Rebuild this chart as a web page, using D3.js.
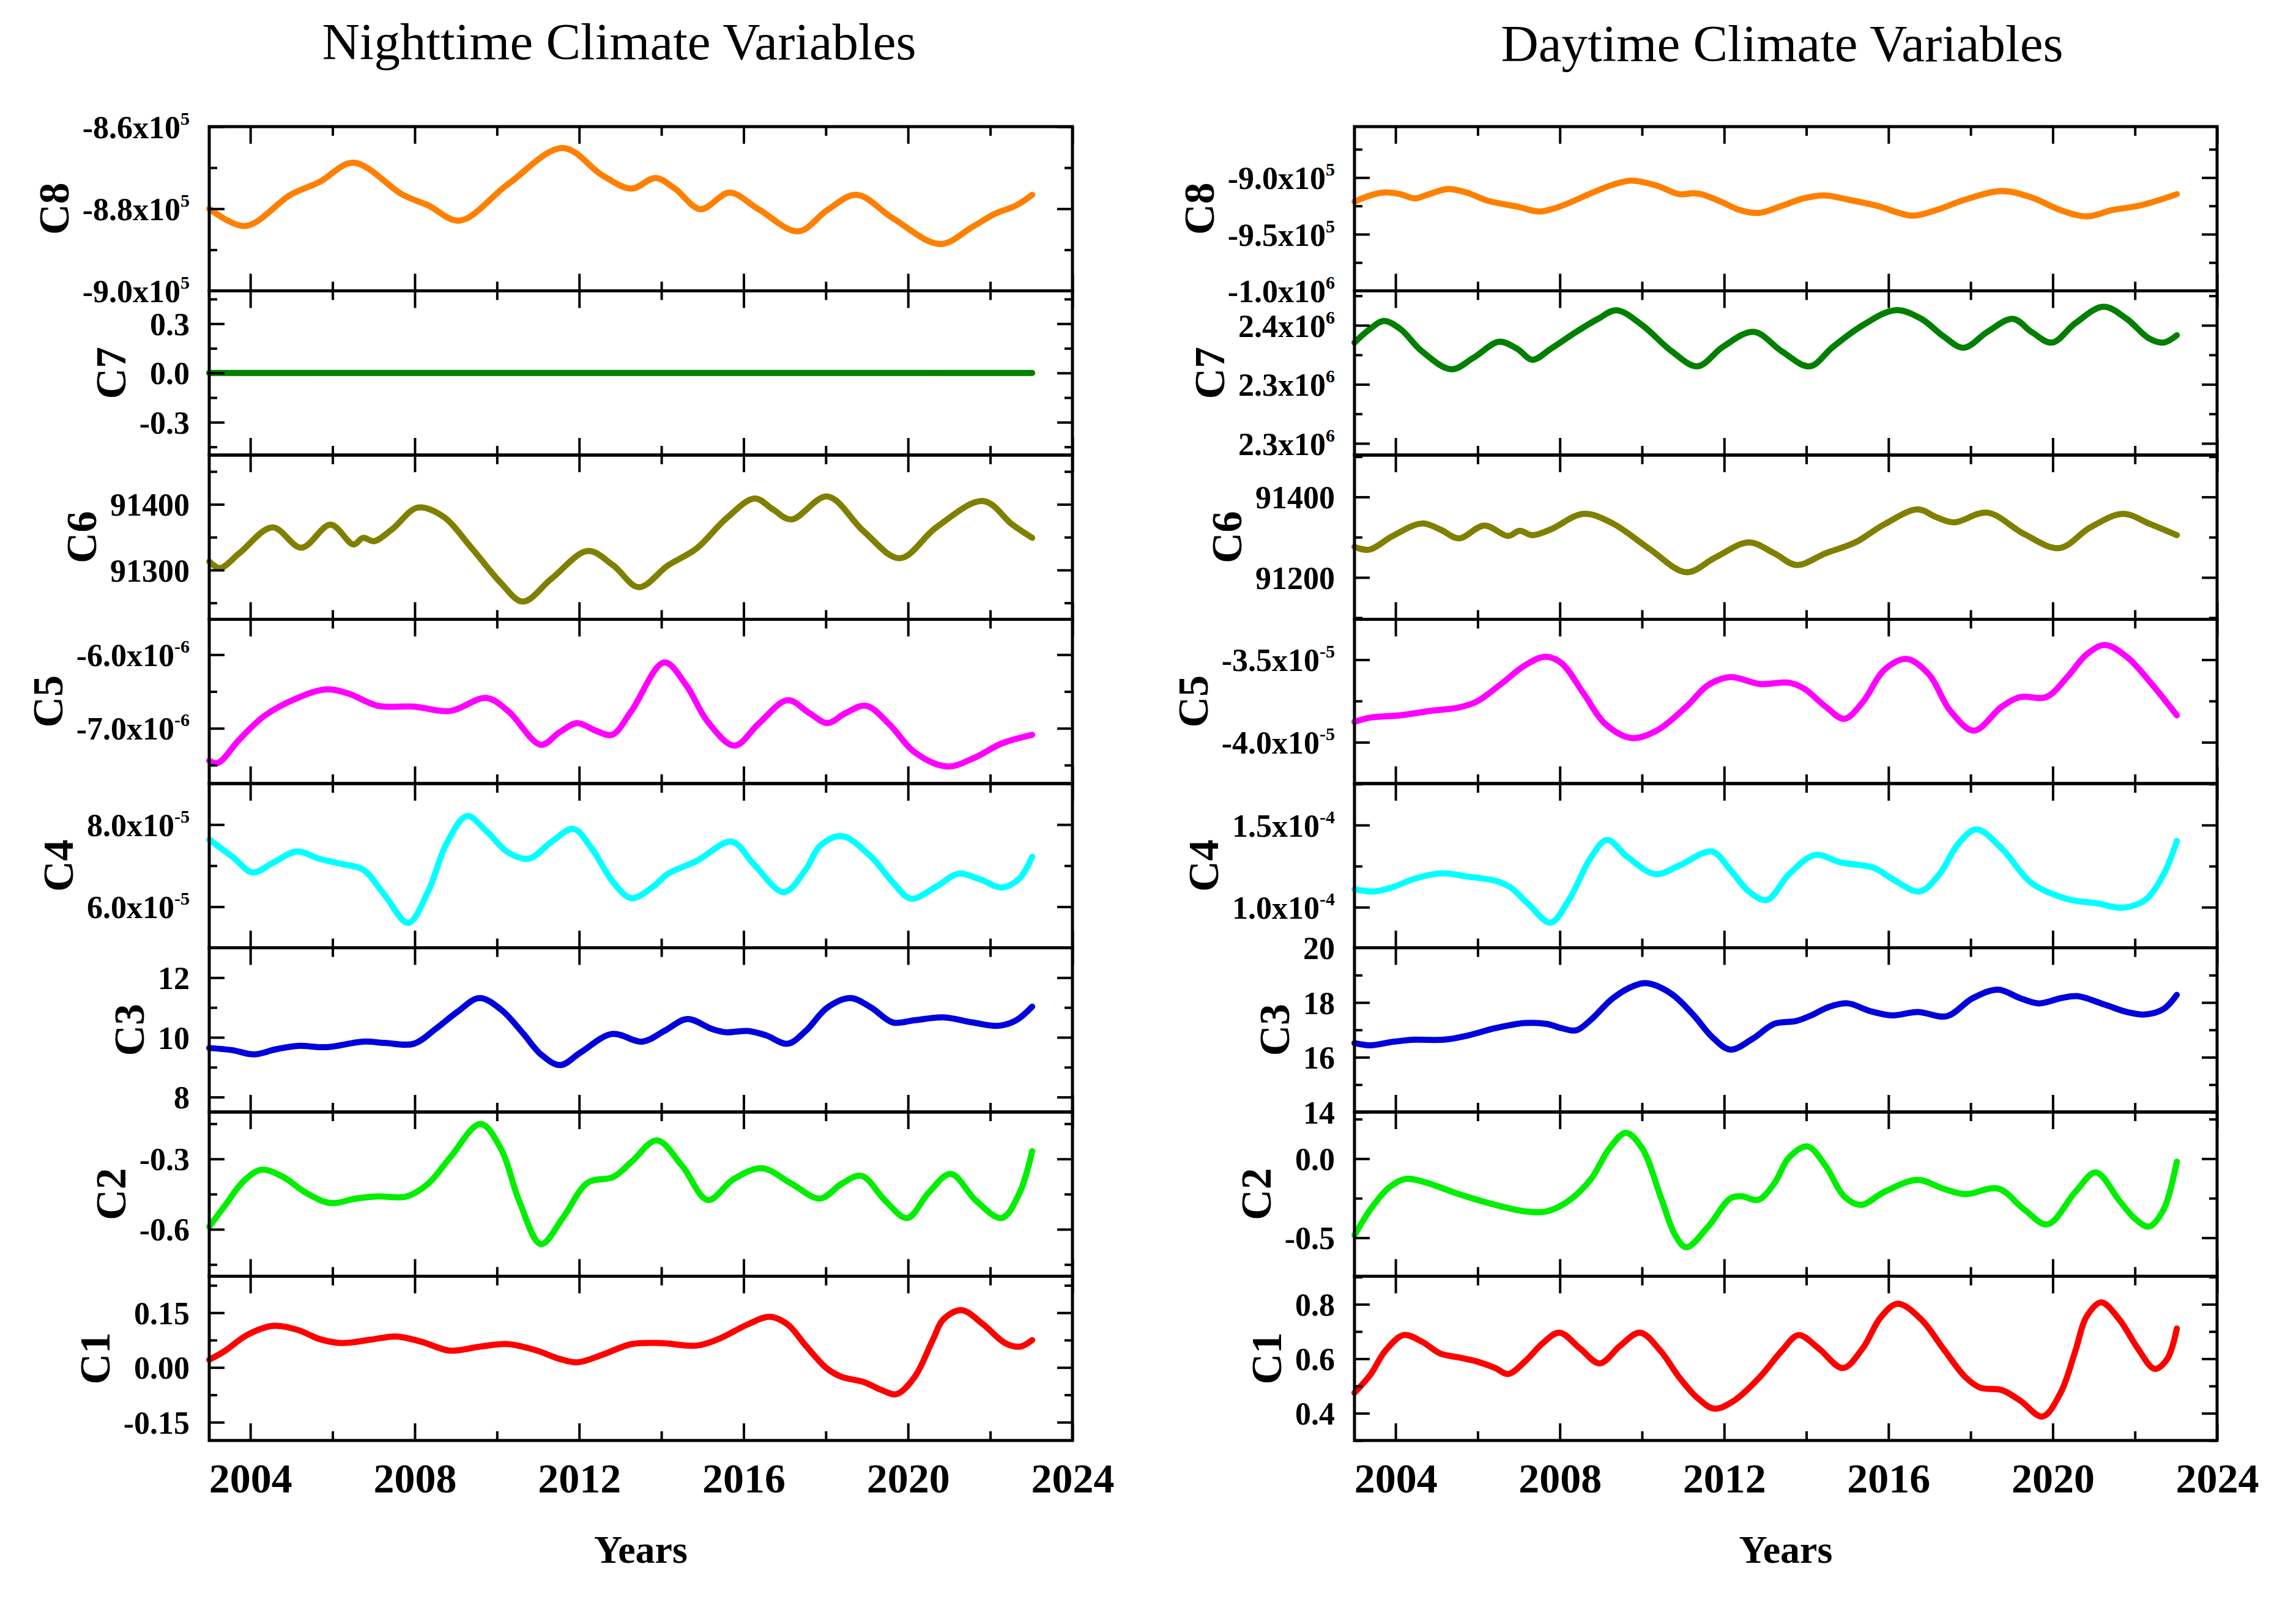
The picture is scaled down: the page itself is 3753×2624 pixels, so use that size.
<!DOCTYPE html>
<html>
<head>
<meta charset="utf-8">
<script src="https://cdn.jsdelivr.net/npm/d3@7"></script>
<style>
  body { margin: 0; background: #fff; }
  svg text { font-family: "Liberation Serif", "Times New Roman", serif; }
</style>
</head>
<body>
<svg id="chart" width="3753" height="2624"></svg>
<script>
// ---- data: [year, value] ----
const yearTicks = [2004, 2008, 2012, 2016, 2020, 2024];
const yearMinor = [2006, 2010, 2014, 2018, 2022];
const componentNames = ["C8", "C7", "C6", "C5", "C4", "C3", "C2", "C1"];
const lineColors = ["#ff8000", "#007f00", "#808000", "#ff00ff", "#00ffff", "#0000dd", "#00ee00", "#ff0000"];

const nightC8 = [[2003.00,-8.800e5],[2003.88,-8.842e5],[2004.98,-8.766e5],[2005.68,-8.735e5],[2006.51,-8.688e5],[2007.71,-8.766e5],[2008.33,-8.792e5],[2009.09,-8.829e5],[2010.27,-8.740e5],[2011.60,-8.652e5],[2012.57,-8.719e5],[2013.27,-8.751e5],[2013.86,-8.725e5],[2014.33,-8.751e5],[2014.95,-8.801e5],[2015.66,-8.761e5],[2016.36,-8.801e5],[2017.33,-8.855e5],[2018.04,-8.803e5],[2018.75,-8.766e5],[2019.63,-8.823e5],[2020.78,-8.886e5],[2021.57,-8.844e5],[2022.10,-8.813e5],[2022.63,-8.792e5],[2023.02,-8.766e5]];
const nightC7 = [[2003.00,0],[2008.00,0],[2013.00,0],[2018.00,0],[2023.02,0]];
const nightC6 = [[2003.00,91313],[2003.26,91303],[2003.74,91326],[2004.54,91365],[2005.24,91334],[2005.95,91369],[2006.51,91339],[2006.74,91349],[2007.01,91344],[2007.45,91362],[2008.07,91395],[2008.68,91382],[2009.39,91333],[2010.10,91280],[2010.63,91252],[2011.33,91287],[2012.21,91329],[2012.83,91307],[2013.45,91274],[2014.16,91307],[2014.86,91333],[2015.57,91378],[2016.27,91409],[2016.72,91392],[2017.16,91377],[2018.04,91412],[2018.92,91359],[2019.80,91318],[2020.69,91365],[2021.83,91405],[2022.54,91369],[2023.02,91349]];
const nightC5 = [[2003.00,-7.441e-6],[2003.21,-7.471e-6],[2003.74,-7.147e-6],[2004.36,-6.824e-6],[2005.15,-6.588e-6],[2005.86,-6.471e-6],[2006.39,-6.529e-6],[2007.10,-6.694e-6],[2007.98,-6.706e-6],[2008.86,-6.765e-6],[2009.74,-6.588e-6],[2010.27,-6.765e-6],[2011.07,-7.224e-6],[2011.51,-7.059e-6],[2011.95,-6.929e-6],[2012.39,-7.029e-6],[2012.80,-7.088e-6],[2013.27,-6.765e-6],[2014.07,-6.106e-6],[2014.60,-6.412e-6],[2015.13,-6.912e-6],[2015.78,-7.235e-6],[2016.36,-6.941e-6],[2017.07,-6.618e-6],[2017.60,-6.794e-6],[2018.04,-6.929e-6],[2018.48,-6.794e-6],[2018.98,-6.694e-6],[2019.54,-6.941e-6],[2020.16,-7.324e-6],[2020.95,-7.518e-6],[2021.57,-7.412e-6],[2022.28,-7.206e-6],[2023.02,-7.088e-6]];
const nightC4 = [[2003.00,7.635e-5],[2003.56,7.219e-5],[2004.06,6.833e-5],[2004.54,7.063e-5],[2005.12,7.344e-5],[2005.68,7.167e-5],[2006.21,7.042e-5],[2006.74,6.906e-5],[2007.27,6.281e-5],[2007.84,5.604e-5],[2008.33,6.385e-5],[2008.77,7.531e-5],[2009.27,8.208e-5],[2009.74,7.844e-5],[2010.27,7.323e-5],[2010.77,7.167e-5],[2011.33,7.583e-5],[2011.86,7.896e-5],[2012.30,7.427e-5],[2012.83,6.594e-5],[2013.27,6.208e-5],[2013.80,6.490e-5],[2014.16,6.802e-5],[2014.86,7.115e-5],[2015.71,7.583e-5],[2016.27,7.010e-5],[2016.98,6.354e-5],[2017.51,6.906e-5],[2017.86,7.479e-5],[2018.39,7.719e-5],[2019.10,7.219e-5],[2019.63,6.594e-5],[2020.07,6.198e-5],[2020.69,6.490e-5],[2021.22,6.802e-5],[2021.75,6.667e-5],[2022.28,6.469e-5],[2022.72,6.698e-5],[2023.02,7.219e-5]];
const nightC3 = [[2003.00,9.643],[2003.56,9.571],[2004.09,9.429],[2004.62,9.600],[2005.15,9.714],[2005.86,9.671],[2006.74,9.857],[2007.27,9.814],[2007.98,9.786],[2008.51,10.286],[2009.04,10.857],[2009.57,11.314],[2010.10,10.929],[2010.63,10.143],[2011.07,9.429],[2011.54,9.071],[2012.04,9.500],[2012.80,10.114],[2013.54,9.857],[2014.07,10.214],[2014.63,10.614],[2015.22,10.286],[2015.57,10.171],[2016.10,10.214],[2016.54,10.071],[2017.07,9.786],[2017.51,10.214],[2018.04,11.000],[2018.60,11.314],[2019.10,11.000],[2019.63,10.500],[2020.16,10.571],[2020.86,10.671],[2021.57,10.500],[2022.19,10.386],[2022.63,10.571],[2023.02,11.029]];
const nightC2 = [[2003.00,-0.589],[2003.39,-0.497],[2003.83,-0.396],[2004.27,-0.346],[2004.80,-0.377],[2005.33,-0.442],[2005.95,-0.488],[2006.57,-0.469],[2007.10,-0.460],[2007.80,-0.460],[2008.33,-0.405],[2008.86,-0.294],[2009.60,-0.151],[2010.10,-0.258],[2010.54,-0.479],[2011.07,-0.663],[2011.60,-0.552],[2012.21,-0.401],[2012.83,-0.377],[2013.27,-0.313],[2013.89,-0.221],[2014.51,-0.331],[2015.13,-0.475],[2015.75,-0.387],[2016.45,-0.340],[2017.16,-0.405],[2017.86,-0.469],[2018.39,-0.405],[2018.87,-0.372],[2019.45,-0.479],[2019.98,-0.552],[2020.51,-0.442],[2021.04,-0.364],[2021.66,-0.479],[2022.28,-0.552],[2022.72,-0.442],[2023.02,-0.267]];
const nightC1 = [[2003.00,0.021],[2003.39,0.046],[2003.92,0.089],[2004.54,0.114],[2005.15,0.103],[2005.68,0.078],[2006.21,0.067],[2006.92,0.076],[2007.54,0.085],[2008.15,0.071],[2008.86,0.046],[2009.57,0.057],[2010.27,0.064],[2010.98,0.046],[2011.51,0.024],[2011.95,0.014],[2012.57,0.035],[2013.27,0.064],[2013.98,0.067],[2014.86,0.060],[2015.39,0.078],[2016.10,0.118],[2016.63,0.139],[2017.07,0.118],[2017.51,0.060],[2018.04,-0.004],[2018.39,-0.026],[2018.92,-0.040],[2019.36,-0.062],[2019.72,-0.073],[2020.16,-0.026],[2020.60,0.075],[2020.86,0.132],[2021.30,0.157],[2021.83,0.118],[2022.36,0.067],[2022.72,0.057],[2023.02,0.075]];

const dayC8 = [[2003.00,-9.213e5],[2003.39,-9.157e5],[2003.75,-9.131e5],[2004.11,-9.146e5],[2004.47,-9.183e5],[2004.82,-9.146e5],[2005.27,-9.101e5],[2005.72,-9.131e5],[2006.25,-9.205e5],[2006.97,-9.257e5],[2007.50,-9.299e5],[2008.04,-9.250e5],[2008.76,-9.138e5],[2009.29,-9.063e5],[2009.74,-9.026e5],[2010.36,-9.071e5],[2010.90,-9.146e5],[2011.26,-9.138e5],[2011.44,-9.146e5],[2011.97,-9.220e5],[2012.33,-9.280e5],[2012.83,-9.313e5],[2013.40,-9.250e5],[2013.94,-9.183e5],[2014.44,-9.157e5],[2015.01,-9.194e5],[2015.73,-9.250e5],[2016.58,-9.336e5],[2017.16,-9.287e5],[2017.87,-9.194e5],[2018.76,-9.119e5],[2019.48,-9.175e5],[2020.19,-9.287e5],[2020.82,-9.343e5],[2021.45,-9.287e5],[2022.16,-9.243e5],[2023.02,-9.146e5]];
const dayC7 = [[2003.00,2.3354e6],[2003.36,2.3464e6],[2003.71,2.3537e6],[2004.11,2.3471e6],[2004.64,2.3281e6],[2005.36,2.3128e6],[2005.90,2.3226e6],[2006.52,2.3361e6],[2006.97,2.3299e6],[2007.33,2.3208e6],[2007.77,2.3299e6],[2008.40,2.3445e6],[2008.93,2.3555e6],[2009.38,2.3628e6],[2010.01,2.3500e6],[2010.72,2.3281e6],[2011.35,2.3153e6],[2011.97,2.3318e6],[2012.72,2.3445e6],[2013.40,2.3281e6],[2014.08,2.3153e6],[2014.65,2.3318e6],[2015.37,2.3500e6],[2016.17,2.3628e6],[2016.80,2.3555e6],[2017.33,2.3409e6],[2017.83,2.3310e6],[2018.41,2.3445e6],[2019.03,2.3555e6],[2019.48,2.3445e6],[2019.98,2.3354e6],[2020.55,2.3518e6],[2021.23,2.3657e6],[2021.80,2.3555e6],[2022.34,2.3390e6],[2022.70,2.3354e6],[2023.02,2.3416e6]];
const dayC6 = [[2003.00,91276],[2003.36,91269],[2003.93,91303],[2004.64,91334],[2005.09,91319],[2005.54,91297],[2006.16,91329],[2006.74,91303],[2007.02,91316],[2007.33,91305],[2007.77,91319],[2008.58,91358],[2009.29,91334],[2010.18,91271],[2011.08,91213],[2011.79,91250],[2012.60,91287],[2013.22,91260],[2013.76,91231],[2014.47,91260],[2015.19,91287],[2015.90,91332],[2016.71,91369],[2017.16,91350],[2017.60,91337],[2018.41,91361],[2019.30,91308],[2020.16,91273],[2020.91,91324],[2021.71,91358],[2022.34,91334],[2023.02,91305]];
const dayC5 = [[2003.00,-3.876e-5],[2003.39,-3.850e-5],[2004.11,-3.837e-5],[2004.82,-3.811e-5],[2005.54,-3.789e-5],[2005.98,-3.753e-5],[2006.61,-3.639e-5],[2007.15,-3.534e-5],[2007.65,-3.482e-5],[2008.04,-3.521e-5],[2008.58,-3.705e-5],[2009.11,-3.890e-5],[2009.74,-3.974e-5],[2010.36,-3.929e-5],[2011.08,-3.784e-5],[2011.61,-3.653e-5],[2012.15,-3.605e-5],[2012.87,-3.647e-5],[2013.58,-3.639e-5],[2013.94,-3.674e-5],[2014.47,-3.784e-5],[2014.92,-3.858e-5],[2015.37,-3.758e-5],[2015.90,-3.561e-5],[2016.44,-3.495e-5],[2016.98,-3.587e-5],[2017.51,-3.811e-5],[2018.08,-3.929e-5],[2018.76,-3.784e-5],[2019.21,-3.726e-5],[2019.84,-3.726e-5],[2020.37,-3.600e-5],[2020.82,-3.468e-5],[2021.27,-3.411e-5],[2021.80,-3.482e-5],[2022.43,-3.653e-5],[2023.02,-3.837e-5]];
const dayC4 = [[2003.00,1.109e-4],[2003.48,1.096e-4],[2003.93,1.122e-4],[2004.47,1.174e-4],[2005.14,1.206e-4],[2005.72,1.188e-4],[2006.43,1.161e-4],[2006.79,1.122e-4],[2007.24,1.018e-4],[2007.77,0.906e-4],[2008.22,1.044e-4],[2008.76,1.305e-4],[2009.15,1.409e-4],[2009.65,1.305e-4],[2010.33,1.201e-4],[2010.90,1.253e-4],[2011.70,1.339e-4],[2012.15,1.227e-4],[2012.60,1.096e-4],[2013.04,1.044e-4],[2013.58,1.201e-4],[2014.21,1.318e-4],[2014.83,1.273e-4],[2015.64,1.240e-4],[2016.08,1.174e-4],[2016.76,1.096e-4],[2017.24,1.201e-4],[2017.69,1.383e-4],[2018.14,1.474e-4],[2018.76,1.357e-4],[2019.48,1.148e-4],[2020.37,1.049e-4],[2021.09,1.023e-4],[2021.71,0.997e-4],[2022.25,1.044e-4],[2022.70,1.201e-4],[2023.02,1.404e-4]];
const dayC3 = [[2003.00,16.516],[2003.39,16.438],[2003.93,16.563],[2004.47,16.641],[2005.18,16.641],[2005.72,16.781],[2006.43,17.063],[2007.15,17.250],[2007.68,17.219],[2008.04,17.063],[2008.40,16.984],[2008.76,17.375],[2009.29,18.156],[2009.83,18.625],[2010.13,18.703],[2010.72,18.313],[2011.26,17.531],[2011.70,16.750],[2012.15,16.281],[2012.69,16.672],[2013.22,17.219],[2013.76,17.328],[2014.12,17.531],[2014.56,17.844],[2015.01,17.969],[2015.55,17.688],[2016.08,17.531],[2016.71,17.656],[2017.42,17.500],[2018.05,18.156],[2018.67,18.469],[2019.21,18.156],[2019.66,17.969],[2020.19,18.156],[2020.59,18.234],[2021.27,17.922],[2021.80,17.656],[2022.25,17.563],[2022.70,17.766],[2023.02,18.281]];
const dayC2 = [[2003.00,-0.484],[2003.39,-0.320],[2003.84,-0.183],[2004.25,-0.128],[2004.73,-0.150],[2005.54,-0.224],[2006.43,-0.292],[2007.15,-0.333],[2007.68,-0.333],[2008.22,-0.265],[2008.76,-0.128],[2009.20,0.063],[2009.61,0.164],[2010.01,0.063],[2010.45,-0.238],[2010.81,-0.484],[2011.08,-0.560],[2011.61,-0.429],[2012.15,-0.251],[2012.42,-0.238],[2012.83,-0.260],[2013.22,-0.156],[2013.58,0.008],[2014.03,0.077],[2014.47,-0.046],[2014.92,-0.238],[2015.33,-0.292],[2015.90,-0.210],[2016.71,-0.134],[2017.33,-0.189],[2017.87,-0.224],[2018.67,-0.189],[2019.30,-0.320],[2019.87,-0.415],[2020.55,-0.210],[2021.05,-0.087],[2021.62,-0.265],[2021.98,-0.374],[2022.34,-0.429],[2022.70,-0.320],[2023.02,-0.019]];
const dayC1 = [[2003.00,0.475],[2003.39,0.542],[2003.75,0.629],[2004.20,0.687],[2004.64,0.663],[2005.09,0.619],[2005.54,0.605],[2005.98,0.590],[2006.43,0.566],[2006.74,0.544],[2007.15,0.590],[2007.59,0.658],[2007.99,0.696],[2008.49,0.638],[2008.97,0.583],[2009.47,0.648],[2009.95,0.696],[2010.45,0.629],[2010.90,0.533],[2011.35,0.456],[2011.76,0.417],[2012.24,0.446],[2012.87,0.533],[2013.40,0.629],[2013.81,0.687],[2014.30,0.638],[2014.89,0.566],[2015.37,0.638],[2015.82,0.754],[2016.23,0.802],[2016.80,0.744],[2017.33,0.638],[2017.87,0.533],[2018.23,0.494],[2018.76,0.485],[2019.21,0.446],[2019.75,0.388],[2020.19,0.475],[2020.55,0.629],[2020.82,0.754],[2021.18,0.807],[2021.62,0.744],[2022.07,0.638],[2022.48,0.563],[2022.79,0.600],[2023.02,0.711]];

const nightSeries = [nightC8, nightC7, nightC6, nightC5, nightC4, nightC3, nightC2, nightC1];
const daySeries = [dayC8, dayC7, dayC6, dayC5, dayC4, dayC3, dayC2, dayC1];

// y ranges, major ticks and their labels ("^" starts the exponent)
const nightDomains = [[-9.0e5, -8.6e5], [-0.5, 0.5], [91225, 91475], [-7.75e-6, -5.52e-6], [5e-5, 9e-5], [7.5, 13], [-0.8, -0.1], [-0.2, 0.25]];
const nightTicks = [[-9.0e5, -8.8e5, -8.6e5], [-0.3, 0, 0.3], [91300, 91400], [-7e-6, -6e-6], [6e-5, 8e-5], [8, 10, 12], [-0.6, -0.3], [-0.15, 0, 0.15]];
const nightTickLabels = [["-9.0x10^5", "-8.8x10^5", "-8.6x10^5"], ["-0.3", "0.0", "0.3"], ["91300", "91400"], ["-7.0x10^-6", "-6.0x10^-6"], ["6.0x10^-5", "8.0x10^-5"], ["8", "10", "12"], ["-0.6", "-0.3"], ["-0.15", "0.00", "0.15"]];

const dayDomains = [[-10.0e5, -8.55e5], [2.2401e6, 2.3792e6], [91096, 91504], [-4.25e-5, -3.255e-5], [0.753e-4, 1.753e-4], [14, 20], [-0.743, 0.295], [0.3, 0.903]];
const dayTicks = [[-10.0e5, -9.5e5, -9.0e5], [2.25e6, 2.30e6, 2.35e6], [91200, 91400], [-4.0e-5, -3.5e-5], [1.0e-4, 1.5e-4], [14, 16, 18, 20], [-0.5, 0.0], [0.4, 0.6, 0.8]];
const dayTickLabels = [["-1.0x10^6", "-9.5x10^5", "-9.0x10^5"], ["2.3x10^6", "2.3x10^6", "2.4x10^6"], ["91200", "91400"], ["-4.0x10^-5", "-3.5x10^-5"], ["1.0x10^-4", "1.5x10^-4"], ["14", "16", "18", "20"], ["-0.5", "0.0"], ["0.4", "0.6", "0.8"]];

// ---- layout ----
const panelTop = 207;
const rowH = 268.5;
const sides = [
  { x0: 342, x1: 1753, title: "Nighttime Climate Variables", titleX: 1012, titleY: 97,
    series: nightSeries, domains: nightDomains, ticks: nightTicks, labels: nightTickLabels },
  { x0: 2214, x1: 3624, title: "Daytime Climate Variables", titleX: 2913, titleY: 100,
    series: daySeries, domains: dayDomains, ticks: dayTicks, labels: dayTickLabels }
];

const svg = d3.select("#chart");
svg.append("rect").attr("width", 3753).attr("height", 2624).attr("fill", "#fff");

function tidy(a) {
  a.attr("font-family", null).attr("font-size", null);
  a.select(".domain").remove();
  a.selectAll(".tick line").attr("stroke", "#000").attr("stroke-width", 4);
  return a;
}

// half-step ticks between the majors, kept inside the y range
function minorOf(ticks, domain) {
  const step = ticks[1] - ticks[0];
  const out = ticks.map(t => t - step / 2).concat([ticks[ticks.length - 1] + step / 2]);
  const eps = Math.abs(step) * 1e-6;
  const lo = Math.min(...domain) - eps, hi = Math.max(...domain) + eps;
  return out.filter(v => v >= lo && v <= hi);
}

sides.forEach(side => {
  const x = d3.scaleLinear().domain([2003, 2024]).range([side.x0, side.x1]);
  const g = svg.append("g");

  g.append("text")
    .attr("x", side.titleX).attr("y", side.titleY)
    .attr("text-anchor", "middle")
    .attr("font-size", 85)
    .text(side.title);

  side.series.forEach((data, i) => {
    const top = panelTop + i * rowH;
    const bottom = top + rowH;
    const y = d3.scaleLinear().domain(side.domains[i]).range([bottom, top]);
    const pg = g.append("g");

    const line = d3.line()
      .x(d => x(d[0]))
      .y(d => y(d[1]))
      .curve(d3.curveCatmullRom.alpha(0.5));
    pg.append("path")
      .datum(data)
      .attr("fill", "none")
      .attr("stroke", lineColors[i])
      .attr("stroke-width", 10)
      .attr("stroke-linejoin", "round")
      .attr("stroke-linecap", "round")
      .attr("d", line);

    // inward ticks on all four sides
    tidy(pg.append("g").attr("transform", `translate(0,${bottom})`)
      .call(d3.axisBottom(x).tickValues(yearTicks).tickSize(-28).tickFormat("")));
    tidy(pg.append("g").attr("transform", `translate(0,${bottom})`)
      .call(d3.axisBottom(x).tickValues(yearMinor).tickSize(-15).tickFormat("")));
    tidy(pg.append("g").attr("transform", `translate(0,${top})`)
      .call(d3.axisTop(x).tickValues(yearTicks).tickSize(-28).tickFormat("")));
    tidy(pg.append("g").attr("transform", `translate(0,${top})`)
      .call(d3.axisTop(x).tickValues(yearMinor).tickSize(-15).tickFormat("")));

    const majors = side.ticks[i];
    const minors = minorOf(majors, side.domains[i]);
    [[d3.axisLeft, side.x0], [d3.axisRight, side.x1]].forEach(([axisFn, ax]) => {
      tidy(pg.append("g").attr("transform", `translate(${ax},0)`)
        .call(axisFn(y).tickValues(majors).tickSize(-25).tickFormat("")));
      tidy(pg.append("g").attr("transform", `translate(${ax},0)`)
        .call(axisFn(y).tickValues(minors).tickSize(-13).tickFormat("")));
    });

    // tick labels with superscript exponents
    const labelAxis = tidy(pg.append("g").attr("transform", `translate(${side.x0},0)`)
      .call(d3.axisLeft(y).tickValues(majors).tickSize(0).tickPadding(32)
        .tickFormat((d, k) => side.labels[i][k])));
    labelAxis.selectAll(".tick line").remove();
    labelAxis.selectAll(".tick text").each(function () {
      const t = d3.select(this);
      const parts = t.text().split("^");
      t.text(null)
        .attr("fill", "#000")
        .attr("font-size", 52)
        .attr("font-weight", "bold")
        .attr("dy", "0.35em");
      t.append("tspan").text(parts[0]);
      if (parts[1]) {
        t.append("tspan").attr("dy", -22).attr("font-size", 30).text(parts[1]);
      }
    });

    const bb = labelAxis.node().getBBox();
    const labelRight = side.x0 + bb.x - 23;
    pg.append("text")
      .attr("transform", `translate(${labelRight},${(top + bottom) / 2}) rotate(-90)`)
      .attr("text-anchor", "middle")
      .attr("font-size", 70)
      .attr("font-weight", "bold")
      .text(componentNames[i]);

    pg.append("rect")
      .attr("x", side.x0).attr("y", top)
      .attr("width", side.x1 - side.x0).attr("height", rowH)
      .attr("fill", "none")
      .attr("stroke", "#000")
      .attr("stroke-width", 5);

    if (i === side.series.length - 1) {
      const xa = tidy(pg.append("g").attr("transform", `translate(0,${bottom})`)
        .call(d3.axisBottom(x).tickValues(yearTicks).tickSize(0).tickPadding(37).tickFormat(d3.format("d"))));
      xa.selectAll(".tick line").remove();
      xa.selectAll(".tick text")
        .attr("fill", "#000")
        .attr("font-size", 68)
        .attr("font-weight", "bold");

      pg.append("text")
        .attr("x", (side.x0 + side.x1) / 2).attr("y", 2555)
        .attr("text-anchor", "middle")
        .attr("font-size", 64)
        .attr("font-weight", "bold")
        .text("Years");
    }
  });
});
</script>
</body>
</html>
